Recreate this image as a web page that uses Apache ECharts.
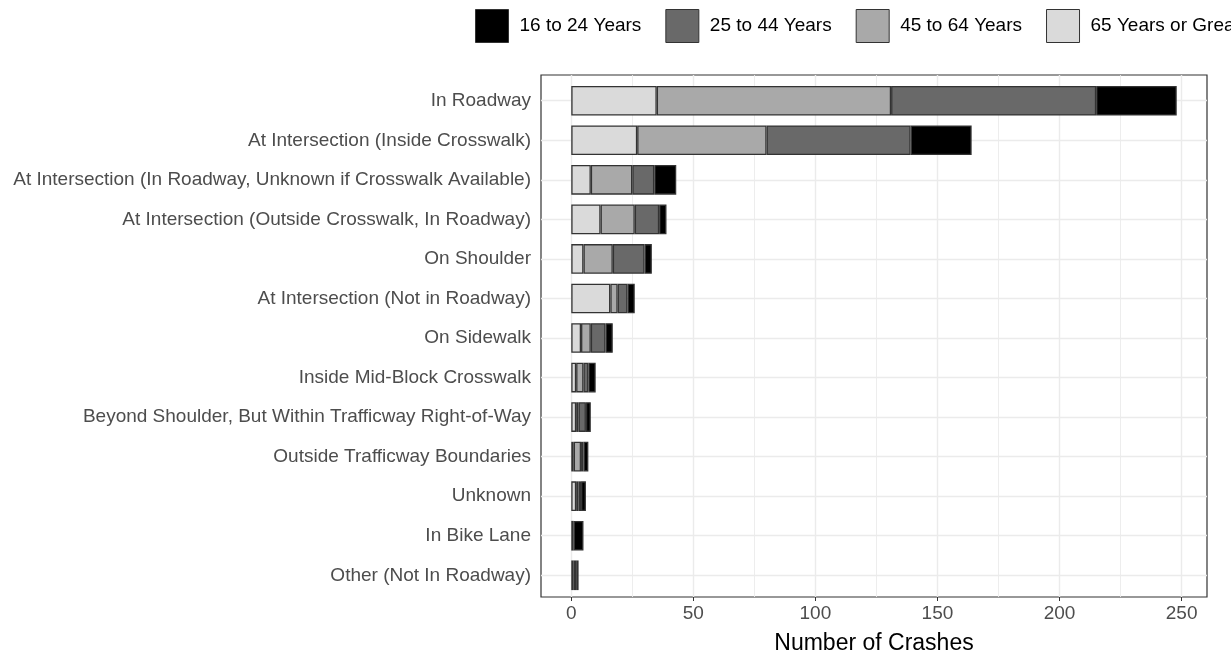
<!DOCTYPE html>
<html>
<head>
<meta charset="utf-8">
<script src="https://cdn.jsdelivr.net/npm/echarts@6/dist/echarts.min.js"></script>
<style>
  html, body { margin: 0; padding: 0; background: #ffffff; }
  #chart { width: 1231px; height: 655px; }
</style>
</head>
<body>
<div id="chart"></div>
<script>
// Pedestrian crashes by location, stacked by age group
const categories = [
  'In Roadway',
  'At Intersection (Inside Crosswalk)',
  'At Intersection (In Roadway, Unknown if Crosswalk Available)',
  'At Intersection (Outside Crosswalk, In Roadway)',
  'On Shoulder',
  'At Intersection (Not in Roadway)',
  'On Sidewalk',
  'Inside Mid-Block Crosswalk',
  'Beyond Shoulder, But Within Trafficway Right-of-Way',
  'Outside Trafficway Boundaries',
  'Unknown',
  'In Bike Lane',
  'Other (Not In Roadway)'
];

const age65Plus  = [35, 27,  8, 12,  5, 16, 4, 2, 2, 1, 2, 1, 1];
const age45to64  = [96, 53, 17, 14, 12,  3, 4, 3, 1, 3, 1, 0, 1];
const age25to44  = [84, 59,  9, 10, 13,  4, 6, 2, 3, 1, 1, 0, 1];
const age16to24  = [33, 25,  9,  3,  3,  3, 3, 3, 2, 2, 2, 4, 0];

const legendNames = ['16 to 24 Years', '25 to 44 Years', '45 to 64 Years', '65 Years or Greater'];
const xTicks = [0, 50, 100, 150, 200, 250];
const xGridValues = [0, 25, 50, 75, 100, 125, 150, 175, 200, 225, 250];

// stacked from the left: oldest group first
const groups = [
  { name: '65 Years or Greater', values: age65Plus, color: '#DADADA' },
  { name: '45 to 64 Years',      values: age45to64, color: '#A9A9A9' },
  { name: '25 to 44 Years',      values: age25to44, color: '#696969' },
  { name: '16 to 24 Years',      values: age16to24, color: '#000000' }
];

const totals = categories.map((c, i) => groups.reduce((s, g) => s + g.values[i], 0));
const maxTotal = Math.max.apply(null, totals);
const xMin = -0.05 * maxTotal;
const xMax = 1.05 * maxTotal;

// discrete axis padding of 0.6 band on each side
const panel = { left: 541, right: 24, top: 75, bottom: 58 };
const panelH = 655 - panel.top - panel.bottom;
const band = panelH / (categories.length - 1 + 1.2);
const inset = 0.1 * band;
const shift = 2;

const FONT = '"Liberation Sans", Arial, sans-serif';

const barSeries = groups.map(g => ({
  name: g.name,
  type: 'bar',
  stack: 'total',
  xAxisIndex: 1,
  yAxisIndex: 1,
  barWidth: 0.75 * band,
  z: 3,
  itemStyle: { color: g.color, borderColor: '#333333', borderWidth: 1.3 },
  emphasis: { disabled: true },
  data: g.values.map(v => v === 0 ? { value: 0, itemStyle: { borderWidth: 0 } } : v)
}));

const gridLineSeries = [
  {
    type: 'line',
    xAxisIndex: 0,
    yAxisIndex: 0,
    data: [],
    silent: true,
    z: 1,
    markLine: {
      silent: true,
      symbol: 'none',
      animation: false,
      z: 1,
      label: { show: false },
      data: xGridValues.map(v => ({
        xAxis: v,
        lineStyle: { color: '#EBEBEB', width: v % 50 === 0 ? 1.4 : 0.9, type: 'solid' }
      }))
    }
  },
  {
    type: 'line',
    xAxisIndex: 1,
    yAxisIndex: 1,
    data: [],
    silent: true,
    z: 1,
    markLine: {
      silent: true,
      symbol: 'none',
      animation: false,
      z: 1,
      label: { show: false },
      data: categories.map(c => ({
        yAxis: c,
        lineStyle: { color: '#EBEBEB', width: 1.4, type: 'solid' }
      }))
    }
  }
];

const chart = echarts.init(document.getElementById('chart'), null, { renderer: 'canvas' });
chart.setOption({
  animation: false,
  backgroundColor: '#ffffff',
  textStyle: { fontFamily: FONT },
  legend: {
    data: legendNames,
    left: 475,
    top: 9,
    width: 2000,
    padding: 0,
    orient: 'horizontal',
    icon: 'rect',
    itemWidth: 33,
    itemHeight: 33,
    itemGap: 24,
    selectedMode: false,
    itemStyle: { borderColor: '#333333', borderWidth: 1 },
    textStyle: { fontSize: 19, color: '#000000', fontFamily: FONT, padding: [8, 0, 0, 6] }
  },
  grid: [
    {
      left: panel.left, right: panel.right, top: panel.top, bottom: panel.bottom,
      show: true, borderColor: '#333333', borderWidth: 1.2, backgroundColor: 'transparent',
      containLabel: false,
      outerBoundsMode: 'none'
    },
    {
      left: panel.left, right: panel.right,
      top: panel.top + inset + shift, bottom: panel.bottom + inset - shift,
      containLabel: false,
      outerBoundsMode: 'none'
    }
  ],
  xAxis: [
    {
      type: 'value',
      gridIndex: 0,
      min: xMin,
      max: xMax,
      axisLine: { show: false },
      splitLine: { show: false },
      axisTick: { show: true, customValues: xTicks, length: 4, lineStyle: { color: '#333333', width: 1 } },
      axisLabel: { customValues: xTicks, fontSize: 19, color: '#4D4D4D', margin: 7, fontFamily: FONT },
      name: 'Number of Crashes',
      nameLocation: 'middle',
      nameGap: 35,
      nameTextStyle: { fontSize: 23, color: '#000000', fontFamily: FONT }
    },
    {
      type: 'value',
      gridIndex: 1,
      min: xMin,
      max: xMax,
      show: false,
      splitLine: { show: false }
    }
  ],
  yAxis: [
    {
      type: 'value',
      gridIndex: 0,
      min: 0,
      max: 1,
      show: false,
      splitLine: { show: false }
    },
    {
      type: 'category',
      gridIndex: 1,
      data: categories,
      inverse: true,
      axisLine: { show: false },
      axisTick: { show: true, alignWithLabel: true, length: 4, lineStyle: { color: '#333333', width: 1 } },
      axisLabel: { fontSize: 19, color: '#4D4D4D', margin: 10, fontFamily: FONT },
      splitLine: { show: false }
    }
  ],
  series: gridLineSeries.concat(barSeries)
});
</script>
</body>
</html>
